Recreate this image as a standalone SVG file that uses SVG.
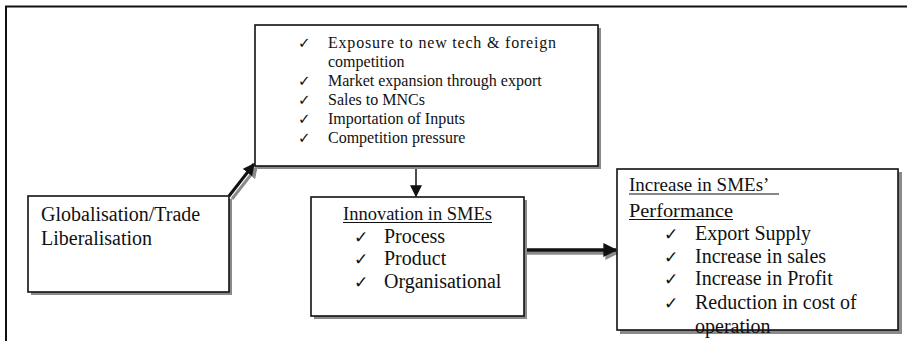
<svg xmlns="http://www.w3.org/2000/svg" width="907" height="341" viewBox="0 0 907 341">
  <style>
    .box { fill: #ffffff; stroke: #111111; stroke-width: 1.6; }
    .edge { fill: none; stroke: #111111; stroke-width: 1.6; }
    .shadow { fill: #8a8a8a; }
    .txt { font-family: "Liberation Serif", "Times New Roman", serif; fill: #111111; }
    .chk { font-family: "DejaVu Sans", sans-serif; fill: #111111; }
    .ul { stroke: #111111; stroke-width: 1.1; }
    .frame { fill: none; stroke: #111111; stroke-width: 2; }
  </style>
  <defs>
    <marker id="head" viewBox="0 0 10 10" refX="9" refY="5" markerWidth="4" markerHeight="4" orient="auto" markerUnits="strokeWidth">
      <path d="M0,0 L10,5 L0,10 Z" fill="#111111"/>
    </marker>
    <marker id="headThin" viewBox="0 0 10 10" refX="9" refY="5" markerWidth="8" markerHeight="8" orient="auto" markerUnits="strokeWidth">
      <path d="M0,0 L10,5 L0,10 Z" fill="#111111"/>
    </marker>
    <marker id="headGrey" viewBox="0 0 10 10" refX="9" refY="5" markerWidth="4" markerHeight="4" orient="auto" markerUnits="strokeWidth">
      <path d="M0,0 L10,5 L0,10 Z" fill="#8a8a8a"/>
    </marker>
  </defs>

  <!-- page frame -->
  <path class="frame" d="M6,341 L6,6.5 L907,6.5"/>

  <!-- connectors -->
  <g id="connectors">
    <line x1="232" y1="199" x2="257" y2="167" stroke="#8a8a8a" stroke-width="3" marker-end="url(#headGrey)"/>
    <line x1="229" y1="196" x2="254" y2="164" stroke="#111111" stroke-width="3" marker-end="url(#head)"/>
    <line x1="416" y1="166" x2="416" y2="196" stroke="#111111" stroke-width="1.5" marker-end="url(#headThin)"/>
    <line x1="525" y1="253" x2="618" y2="253" stroke="#8a8a8a" stroke-width="3.5" marker-end="url(#headGrey)"/>
    <line x1="525" y1="250" x2="616" y2="250" stroke="#111111" stroke-width="3.5" marker-end="url(#head)"/>
  </g>

  <!-- drivers box -->
  <g id="drivers">
    <rect class="shadow" x="258" y="28" width="343" height="141"/>
    <rect class="box" x="255" y="25" width="343" height="141"/>
    <g class="chk" font-size="15">
      <text x="298" y="48">✓</text>
      <text x="298" y="86">✓</text>
      <text x="298" y="105">✓</text>
      <text x="298" y="124">✓</text>
      <text x="298" y="143">✓</text>
    </g>
    <g class="txt" font-size="16">
      <text x="328" y="48" textLength="228" lengthAdjust="spacing">Exposure to new tech &amp; foreign</text>
      <text x="328" y="67">competition</text>
      <text x="328" y="86">Market expansion through export</text>
      <text x="328" y="105">Sales to MNCs</text>
      <text x="328" y="124">Importation of Inputs</text>
      <text x="328" y="143">Competition pressure</text>
    </g>
  </g>

  <!-- globalisation box -->
  <g id="globalisation">
    <rect class="shadow" x="31" y="199" width="201" height="96"/>
    <rect class="box" x="28" y="196" width="201" height="96"/>
    <g class="txt" font-size="20">
      <text x="41" y="221">Globalisation/Trade</text>
      <text x="41" y="245">Liberalisation</text>
    </g>
  </g>

  <!-- innovation box -->
  <g id="innovation">
    <rect class="shadow" x="314" y="200" width="213" height="119"/>
    <rect class="box" x="311" y="197" width="213" height="119"/>
    <text class="txt" font-size="19" x="343" y="220" textLength="149" lengthAdjust="spacingAndGlyphs">Innovation in SMEs</text>
    <line class="ul" x1="343" y1="222.5" x2="492" y2="222.5"/>
    <g class="chk" font-size="17">
      <text x="354" y="243">✓</text>
      <text x="354" y="265">✓</text>
      <text x="354" y="288">✓</text>
    </g>
    <g class="txt" font-size="20">
      <text x="384" y="243">Process</text>
      <text x="384" y="265">Product</text>
      <text x="384" y="288">Organisational</text>
    </g>
  </g>

  <!-- performance box -->
  <g id="performance">
    <rect class="shadow" x="620" y="172" width="282" height="162"/>
    <rect x="617" y="169" width="281" height="161" fill="#ffffff"/>
    <g class="txt" font-size="19">
      <text x="629" y="191">Increase in SMEs’</text>
      <text x="629" y="216.5" textLength="104" lengthAdjust="spacingAndGlyphs">Performance</text>
    </g>
    <line class="ul" x1="629" y1="194" x2="779" y2="194"/>
    <line class="ul" x1="629" y1="219.5" x2="733" y2="219.5"/>
    <g class="chk" font-size="17">
      <text x="664" y="240">✓</text>
      <text x="664" y="262.5">✓</text>
      <text x="664" y="285">✓</text>
      <text x="664" y="309">✓</text>
    </g>
    <g class="txt" font-size="20">
      <text x="695" y="240">Export Supply</text>
      <text x="695" y="262.5">Increase in sales</text>
      <text x="695" y="285">Increase in Profit</text>
      <text x="695" y="309">Reduction in cost of</text>
      <text x="695" y="332.5">operation</text>
    </g>
    <!-- border drawn last so it runs over the overflowing last line -->
    <rect class="edge" x="617" y="169" width="281" height="161"/>
  </g>
</svg>
